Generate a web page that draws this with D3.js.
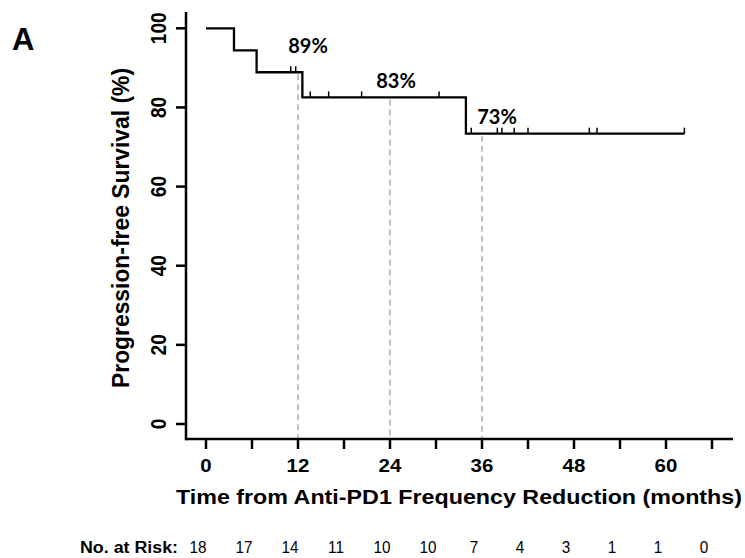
<!DOCTYPE html>
<html>
<head>
<meta charset="utf-8">
<script src="https://cdn.jsdelivr.net/npm/d3@7/dist/d3.min.js"></script>
<style>
  html, body { margin: 0; padding: 0; background: #fff; }
  svg { display: block; }
</style>
</head>
<body>
<svg id="chart" width="745" height="558"></svg>
<script>
// Follow-up times (months) and whether progression occurred (1) or censored (0)
const times  = [3.65, 6.6, 11.05, 11.7, 12.57, 13.6, 16.0, 20.3, 30.4, 33.9, 34.6, 38.0, 38.6, 40.2, 42.0, 50.0, 51.0, 62.4];
const events = [1,    1,   0,     0,    1,     0,    0,    0,    0,    1,    0,    0,    0,    0,    0,    0,    0,    0];

// Number at risk table
const riskTimes  = [0, 6, 12, 18, 24, 30, 36, 42, 48, 54, 60, 66];
const riskCounts = [18, 17, 14, 11, 10, 10, 7, 4, 3, 1, 1, 0];

// Landmark survival annotations
const landmarks = [12, 24, 36];
const labelDx = [10, 6, 15];
const labelDy = [19, 9, 10];

const xTicks = [0, 12, 24, 36, 48, 60];
const xMinorTicks = [0, 6, 12, 18, 24, 30, 36, 42, 48, 54, 60, 66];
const yTicks = [0, 20, 40, 60, 80, 100];

const FONT = "'Liberation Sans', Arial, sans-serif";
const svg = d3.select("#chart");
const x = d3.scaleLinear().domain([0, 66]).range([206, 712]);
const y = d3.scaleLinear().domain([0, 100]).range([424, 28.3]);

// Kaplan-Meier estimate
const order = d3.range(times.length).sort((a, b) => times[a] - times[b]);
let atRisk = times.length, s = 100;
const steps = [{t: 0, s: 100}];
const censored = [];
order.forEach(i => {
  if (events[i]) {
    s = s * (atRisk - 1) / atRisk;
    steps.push({t: times[i], s});
  } else {
    censored.push({t: times[i], s});
  }
  atRisk -= 1;
});
steps.push({t: d3.max(times), s});
function survAt(t) {
  let v = 100;
  steps.forEach(p => { if (p.t <= t) v = p.s; });
  return v;
}

// Dashed guides at landmarks
const axisY = 439;
svg.append("g").selectAll("line").data(landmarks).join("line")
  .attr("x1", d => x(d)).attr("x2", d => x(d))
  .attr("y1", d => y(survAt(d)) + 2).attr("y2", axisY)
  .attr("stroke", "#9a9a9a").attr("stroke-width", 1.2)
  .attr("stroke-dasharray", "6,4");

// Survival curve
const line = d3.line().x(d => x(d.t)).y(d => y(d.s)).curve(d3.curveStepAfter);
svg.append("path").datum(steps)
  .attr("d", line).attr("fill", "none")
  .attr("stroke", "#000").attr("stroke-width", 2.3);

// Censor marks
svg.append("g").selectAll("line").data(censored).join("line")
  .attr("x1", d => x(d.t)).attr("x2", d => x(d.t))
  .attr("y1", d => y(d.s)).attr("y2", d => y(d.s) - 6)
  .attr("stroke", "#000").attr("stroke-width", 1.5);

// Landmark labels
svg.append("g").selectAll("text").data(landmarks).join("text")
  .attr("x", (d, i) => x(d) + labelDx[i])
  .attr("y", (d, i) => y(survAt(d)) - labelDy[i])
  .attr("text-anchor", "middle")
  .attr("font-family", "Lato, 'Open Sans', sans-serif")
  .attr("font-weight", "bold").attr("font-size", 20)
  .text(d => Math.round(survAt(d)) + "%");

// Axes
const xAxis = svg.append("g");
xAxis.append("line")
  .attr("x1", 186).attr("x2", 733).attr("y1", axisY).attr("y2", axisY)
  .attr("stroke", "#000").attr("stroke-width", 2.5);
xAxis.selectAll("line.tick").data(xMinorTicks).join("line").attr("class", "tick")
  .attr("x1", d => x(d)).attr("x2", d => x(d))
  .attr("y1", axisY).attr("y2", axisY + 10)
  .attr("stroke", "#000").attr("stroke-width", 2.5);
xAxis.selectAll("text").data(xTicks).join("text")
  .attr("transform", d => `translate(${x(d)},472) scale(1.1,1)`)
  .attr("text-anchor", "middle")
  .attr("font-family", FONT)
  .attr("font-weight", "bold").attr("font-size", 18.6)
  .text(d => d);

const yAxis = svg.append("g");
yAxis.append("line")
  .attr("x1", 186).attr("x2", 186).attr("y1", 12).attr("y2", axisY + 1.25)
  .attr("stroke", "#000").attr("stroke-width", 2.5);
yAxis.selectAll("line.tick").data(yTicks).join("line").attr("class", "tick")
  .attr("x1", 176).attr("x2", 186)
  .attr("y1", d => y(d)).attr("y2", d => y(d))
  .attr("stroke", "#000").attr("stroke-width", 2.5);
yAxis.selectAll("text").data(yTicks).join("text")
  .attr("transform", d => `translate(166,${y(d)}) rotate(-90) scale(0.87,1)`)
  .attr("text-anchor", "middle")
  .attr("font-family", FONT)
  .attr("font-weight", "bold").attr("font-size", 22)
  .text(d => d);

// Axis titles
svg.append("text")
  .attr("x", 459).attr("y", 504)
  .attr("text-anchor", "middle")
  .attr("font-family", FONT)
  .attr("font-weight", "bold").attr("font-size", 20)
  .attr("textLength", 566).attr("lengthAdjust", "spacingAndGlyphs")
  .text("Time from Anti-PD1 Frequency Reduction (months)");
svg.append("text")
  .attr("transform", "translate(129,228) rotate(-90)")
  .attr("text-anchor", "middle")
  .attr("font-family", FONT)
  .attr("font-weight", "bold").attr("font-size", 23)
  .attr("textLength", 320).attr("lengthAdjust", "spacingAndGlyphs")
  .text("Progression-free Survival (%)");

// Panel letter
svg.append("text")
  .attr("x", 12).attr("y", 50)
  .attr("font-family", FONT)
  .attr("font-weight", "bold").attr("font-size", 31)
  .text("A");

// Number at risk row
svg.append("text")
  .attr("x", 80).attr("y", 553)
  .attr("font-family", FONT)
  .attr("font-weight", "bold").attr("font-size", 16)
  .attr("textLength", 98).attr("lengthAdjust", "spacingAndGlyphs")
  .text("No. at Risk:");
svg.append("g").selectAll("text").data(riskTimes).join("text")
  .attr("transform", d => `translate(${x(d) - 8},553) scale(0.9,1)`)
  .attr("text-anchor", "middle")
  .attr("font-family", FONT)
  .attr("font-size", 17)
  .text((d, i) => riskCounts[i]);
</script>
</body>
</html>
